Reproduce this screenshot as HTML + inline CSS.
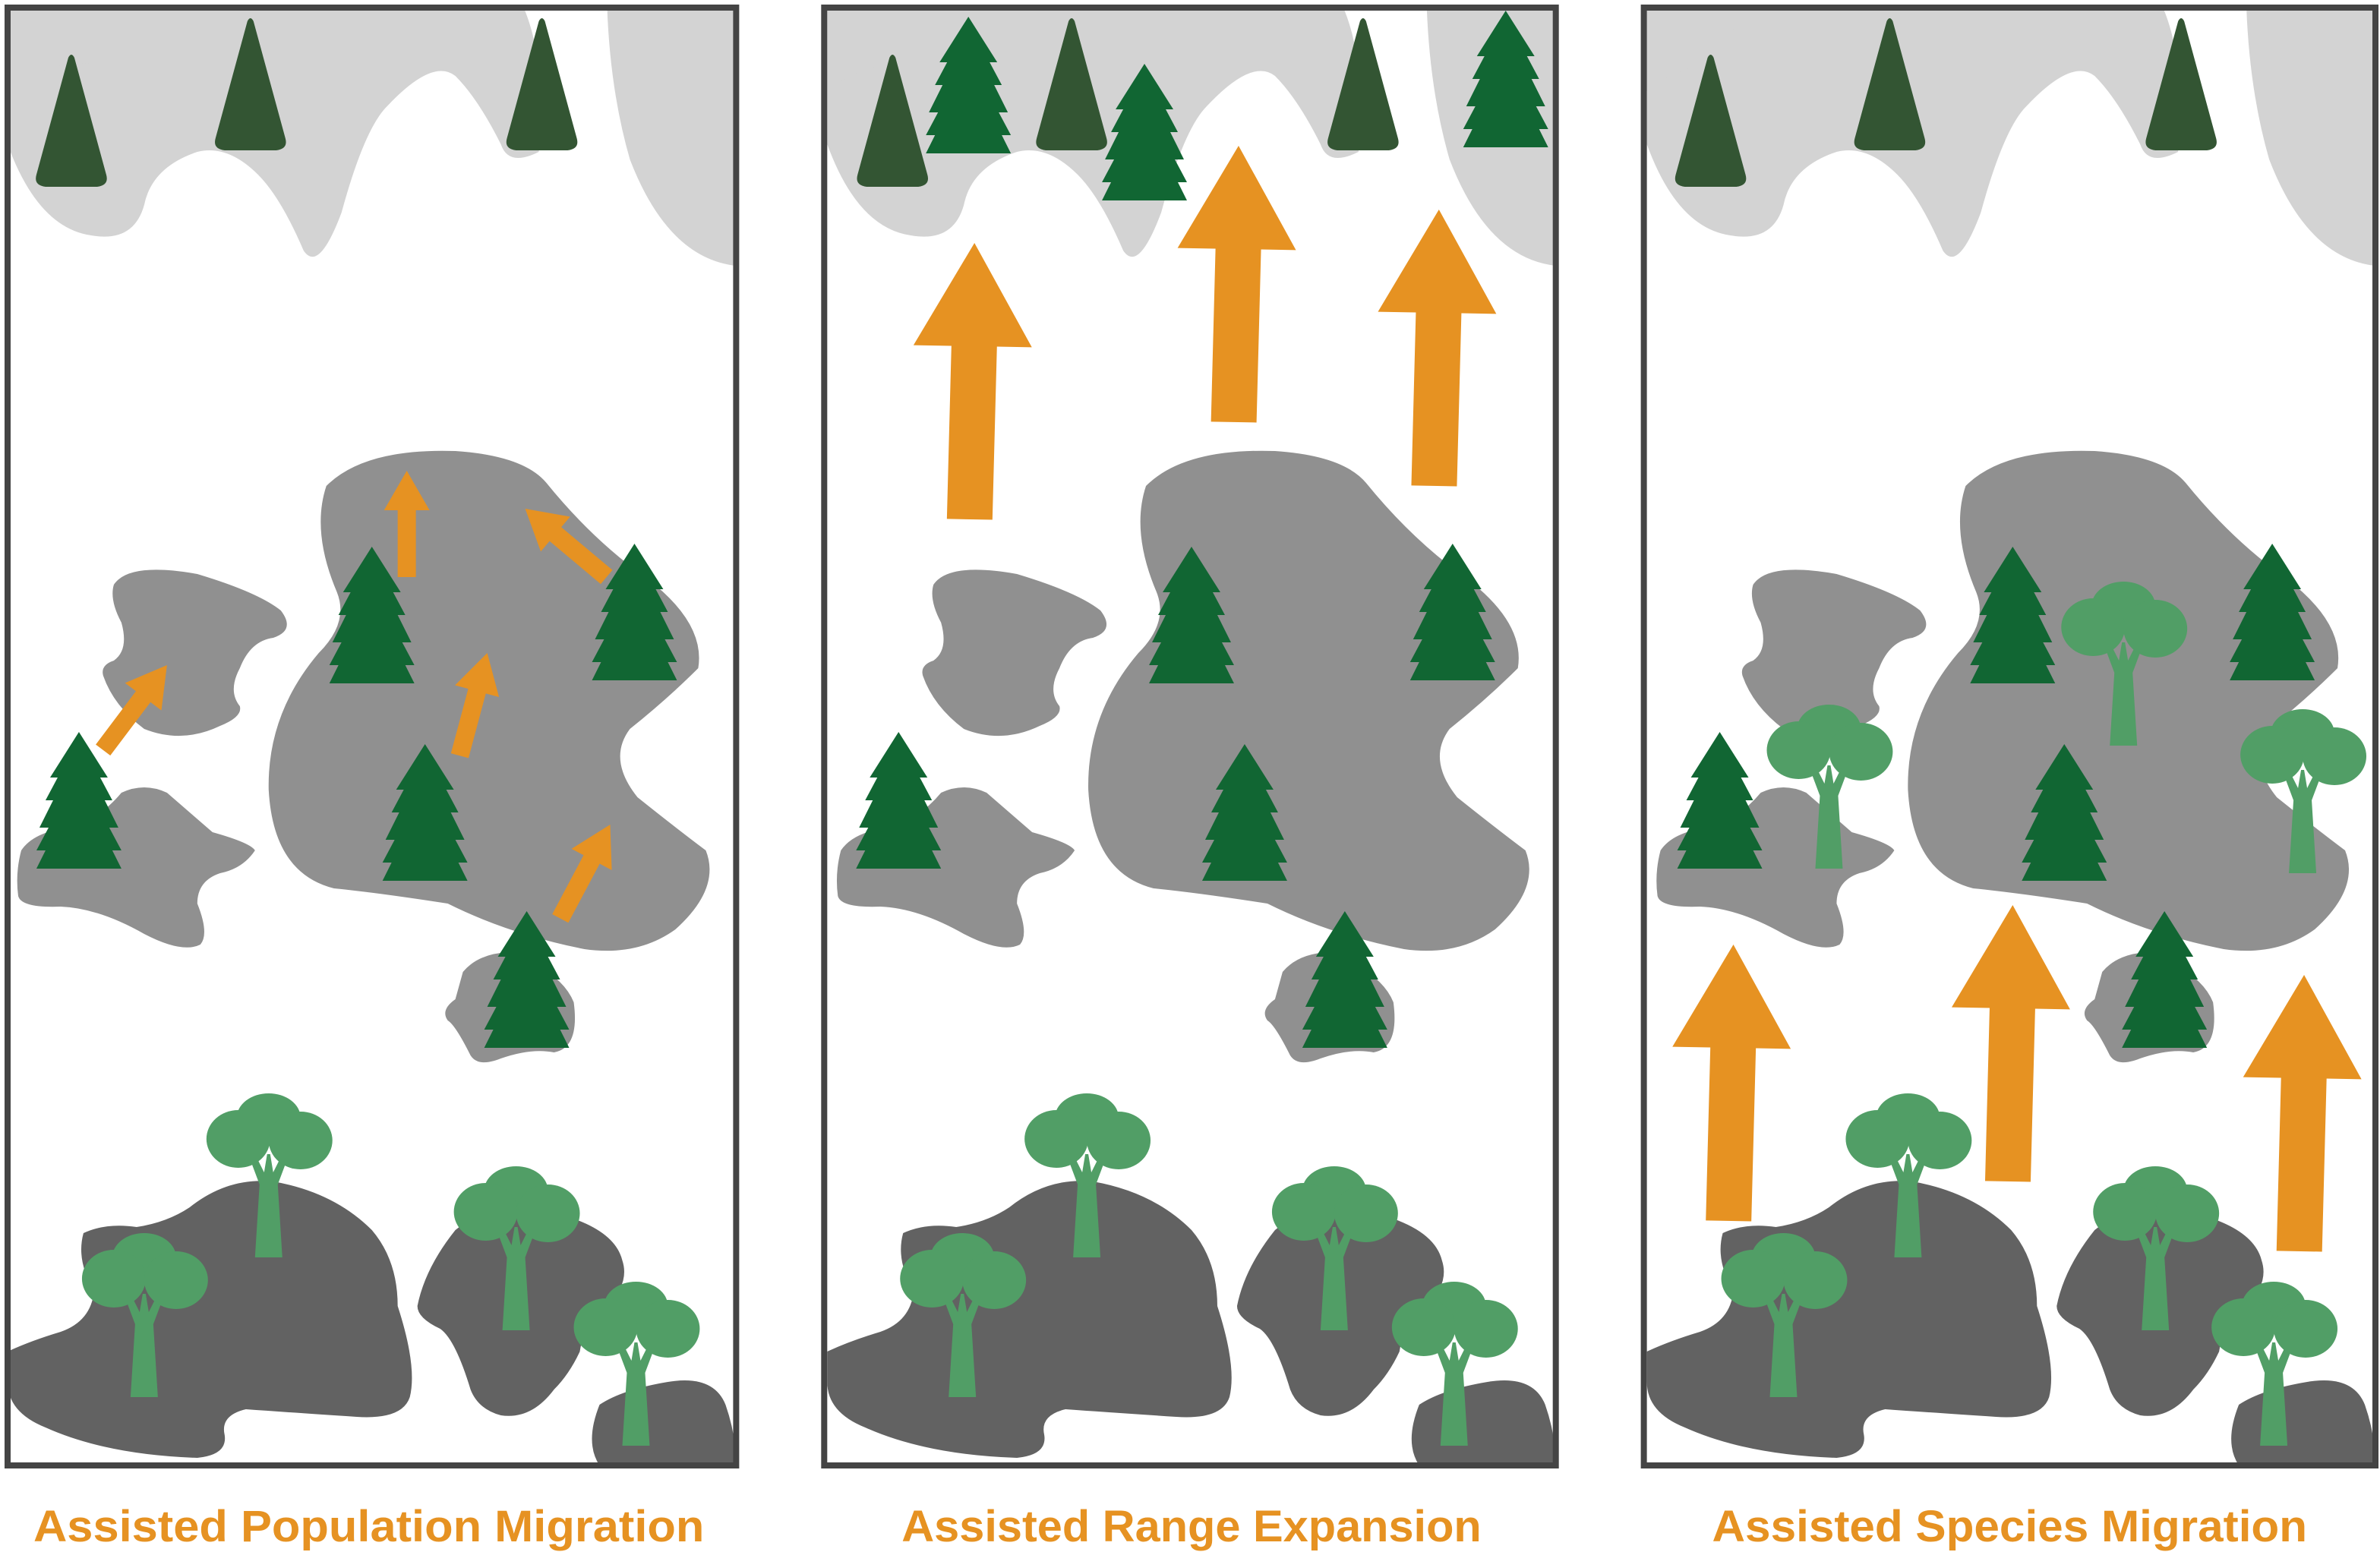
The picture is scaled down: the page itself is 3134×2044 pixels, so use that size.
<!DOCTYPE html>
<html><head><meta charset="utf-8"><style>
html,body{margin:0;padding:0;background:#fff;}
svg{display:block;}
</style></head><body>
<svg width="3134" height="2044" viewBox="0 0 1568 1022" preserveAspectRatio="none" xmlns="http://www.w3.org/2000/svg">
<defs>
<clipPath id="cp"><rect x="5" y="5" width="480" height="960"/></clipPath>
<g id="pine"><polygon fill="#116633" points="0,0 19,30 14,30 22,45 17,45 26,63 20,63 28,78 22,78 28,90 -28,90 -22,78 -28,78 -20,63 -26,63 -17,45 -22,45 -14,30 -19,30"/></g>
<g id="cone"><path fill="#335533" d="M-2,2 Q0,-2 2,2 L23,79 Q25,86 17,87 L-17,87 Q-25,86 -23,79 Z"/></g>
<g id="leaf" fill="#519e66">
<polygon points="-9,108 -6,60 -12,44 -8,42 -3,52 -1,40 1,40 3,52 8,42 12,44 6,60 9,108"/>
<ellipse cx="0" cy="16" rx="21" ry="16"/>
<ellipse cx="-20" cy="30" rx="21" ry="19"/>
<ellipse cx="21" cy="31" rx="21" ry="19"/>
</g>
<g id="bigarrow"><polygon fill="#e69222" points="0,0 39,68 16,68 15,182 -15,182 -14,68 -39,68"/></g>
<g id="smallarrow"><polygon fill="#e69222" points="0,0 15,26 6,26 6,70 -6,70 -6,26 -15,26"/></g>
<g id="bg">
<g clip-path="url(#cp)">
<path fill="#d3d3d3" d="M5,5 L345,5 Q360,40 355,100 Q335,110 330,95 Q315,65 300,50 Q285,38 255,70 Q240,85 225,140 Q210,180 200,165 Q185,130 170,115 Q150,95 130,100 Q100,110 95,135 Q88,160 60,155 Q25,150 5,95 Z"/>
<path fill="#d3d3d3" d="M5,60 Q30,40 60,42 Q65,30 60,5 L5,5 Z"/>
<path fill="#d3d3d3" d="M400,5 L485,5 L485,175 Q440,170 415,105 Q402,60 400,5 Z"/>
<path fill="#909090" d="M215,320 Q240,295 300,297 Q345,300 360,318 Q390,355 425,380 Q465,410 460,440 Q440,460 415,480 Q400,500 420,525 Q445,545 465,560 Q475,585 445,612 Q420,630 385,625 Q335,615 295,595 Q250,588 220,585 Q180,575 177,520 Q176,470 210,430 Q230,410 222,390 Q205,350 215,320 Z"/>
<path fill="#909090" d="M75,385 Q85,370 130,378 Q170,390 185,402 Q195,415 180,420 Q165,422 158,440 Q150,455 158,465 Q160,472 145,478 Q120,490 95,480 Q75,465 68,445 Q66,438 75,435 Q85,428 80,410 Q72,395 75,385 Z"/>
<path fill="#909090" d="M14,560 Q22,548 45,545 Q65,540 80,522 Q95,515 110,522 Q125,535 140,548 Q165,555 168,560 Q160,572 145,575 Q130,580 130,595 Q138,615 132,622 Q120,628 95,615 Q65,598 40,597 Q14,598 12,590 Q10,575 14,560 Z"/>
<path fill="#909090" d="M305,640 Q315,628 335,627 Q370,640 378,660 Q382,690 365,693 Q350,690 330,697 Q315,703 310,695 Q300,675 295,672 Q290,665 300,658 Z"/>
<path fill="#626262" d="M5,890 Q20,883 40,877 Q60,870 62,850 Q50,830 55,812 Q70,805 90,808 Q110,805 125,795 Q150,775 180,778 Q220,785 245,810 Q262,830 262,860 Q275,900 270,920 Q265,935 235,933 Q190,930 162,928 Q145,932 148,945 Q150,958 130,960 Q70,958 30,940 Q5,930 5,910 Z"/>
<path fill="#626262" d="M300,810 Q330,785 370,800 Q405,810 410,830 Q415,845 400,860 Q385,870 382,890 Q375,905 365,915 Q350,935 330,932 Q315,928 310,915 Q300,882 290,875 Q275,868 275,860 Q280,835 300,810 Z"/>
<path fill="#626262" d="M395,925 Q410,915 440,910 Q470,905 478,925 Q485,945 485,965 L395,965 Q385,950 395,925 Z"/>
</g>
</g>
</defs>
<g>
<use href="#bg"/>
<use href="#cone" x="47" y="36"/><use href="#cone" x="165" y="12"/><use href="#cone" x="357" y="12"/>
<use href="#pine" x="245" y="360"/><use href="#pine" x="418" y="358"/><use href="#pine" x="52" y="482"/><use href="#pine" x="280" y="490"/><use href="#pine" x="347" y="600"/>
<use href="#smallarrow" transform="translate(268,310)"/>
<use href="#smallarrow" transform="translate(346,335) rotate(-50)"/>
<use href="#smallarrow" transform="translate(110,438) rotate(37)"/>
<use href="#smallarrow" transform="translate(321,430) rotate(15)"/>
<use href="#smallarrow" transform="translate(402,543) rotate(28)"/>
<use href="#leaf" x="177" y="720"/><use href="#leaf" x="95" y="812"/><use href="#leaf" x="340" y="768"/><use href="#leaf" x="419" y="844"/>
<rect x="5" y="5" width="480" height="960" fill="none" stroke="#444" stroke-width="4"/>
</g>
<g transform="translate(540,0)">
<use href="#bg"/>
<use href="#cone" x="48" y="36"/><use href="#cone" x="166" y="12"/><use href="#cone" x="358" y="12"/>
<use href="#pine" x="98" y="11"/><use href="#pine" x="214" y="42"/><use href="#pine" x="452" y="7"/>
<use href="#bigarrow" transform="translate(102,160) rotate(1)"/>
<use href="#bigarrow" transform="translate(276,96) rotate(1)"/>
<use href="#bigarrow" transform="translate(408,138) rotate(1)"/>
<use href="#pine" x="245" y="360"/><use href="#pine" x="417" y="358"/><use href="#pine" x="52" y="482"/><use href="#pine" x="280" y="490"/><use href="#pine" x="346" y="600"/>
<use href="#leaf" x="176" y="720"/><use href="#leaf" x="94" y="812"/><use href="#leaf" x="339" y="768"/><use href="#leaf" x="418" y="844"/>
<rect x="3" y="5" width="482" height="960" fill="none" stroke="#444" stroke-width="4"/>
</g>
<g transform="translate(1080,0)">
<use href="#bg"/>
<use href="#cone" x="47" y="36"/><use href="#cone" x="165" y="12"/><use href="#cone" x="357" y="12"/>
<use href="#pine" x="246" y="360"/><use href="#pine" x="417" y="358"/><use href="#pine" x="53" y="482"/><use href="#pine" x="280" y="490"/><use href="#pine" x="346" y="600"/>
<use href="#leaf" x="319" y="383"/><use href="#leaf" x="125" y="464"/><use href="#leaf" x="437" y="467"/>
<use href="#bigarrow" transform="translate(62,622) rotate(1)"/>
<use href="#bigarrow" transform="translate(246,596) rotate(1)"/>
<use href="#bigarrow" transform="translate(438,642) rotate(1)"/>
<use href="#leaf" x="177" y="720"/><use href="#leaf" x="95" y="812"/><use href="#leaf" x="340" y="768"/><use href="#leaf" x="418" y="844"/>
<rect x="3" y="5" width="482" height="960" fill="none" stroke="#444" stroke-width="4"/>
</g>
<g font-family="'Liberation Sans', sans-serif" font-weight="bold" font-size="29" fill="#e69222">
<text x="22" y="1015" textLength="442" lengthAdjust="spacingAndGlyphs">Assisted Population Migration</text>
<text x="594" y="1015" textLength="382" lengthAdjust="spacingAndGlyphs">Assisted Range Expansion</text>
<text x="1128" y="1015" textLength="392" lengthAdjust="spacingAndGlyphs">Assisted Species Migration</text>
</g>
</svg>
</body></html>
